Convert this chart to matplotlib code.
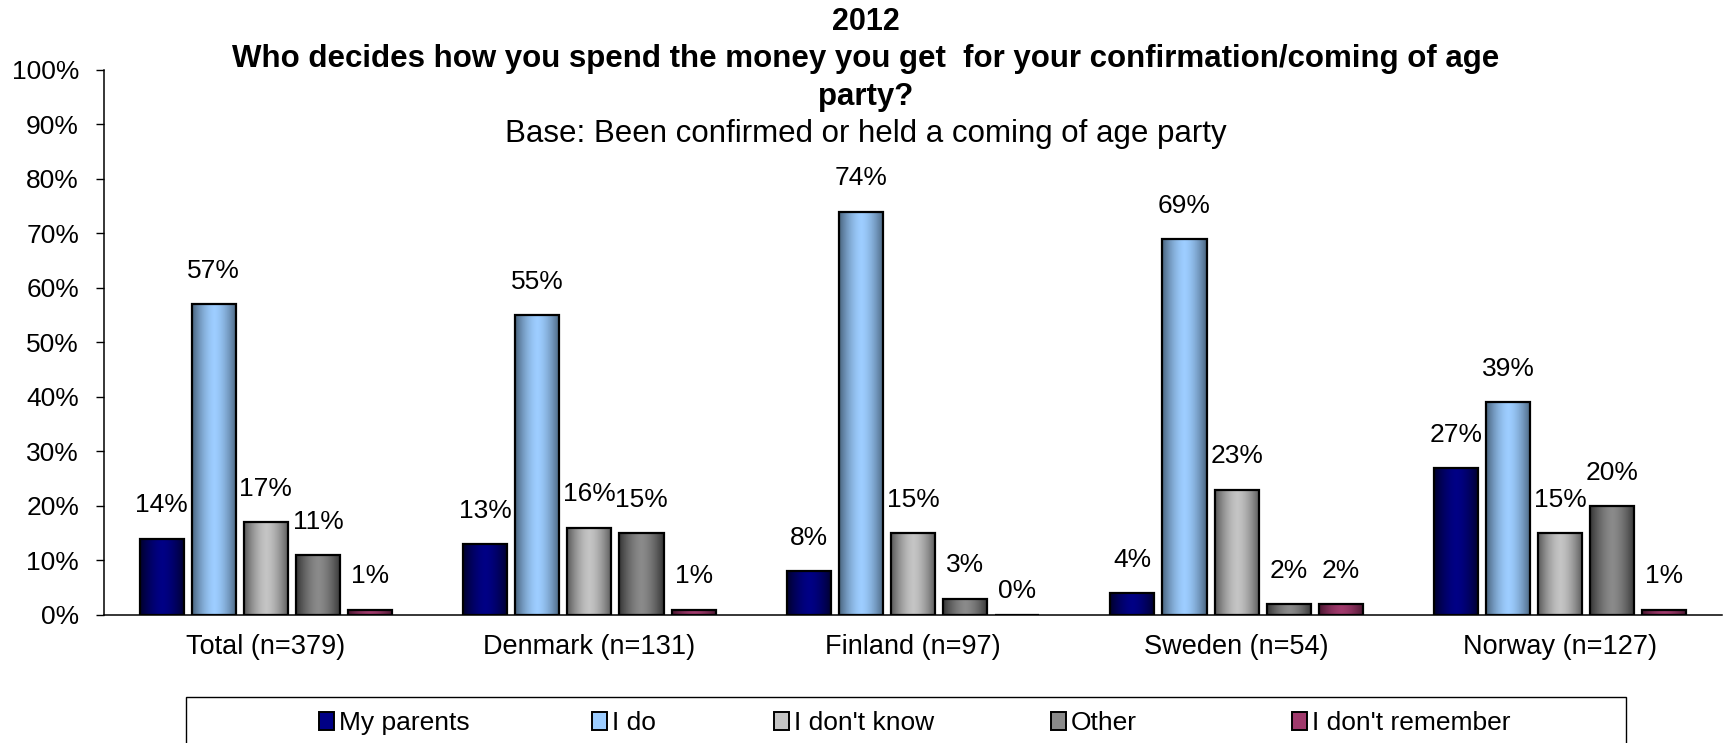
import matplotlib.pyplot as plt
import numpy as np
from matplotlib.colors import LinearSegmentedColormap
from matplotlib.patches import Patch, Rectangle

plt.rcParams['font.family'] = ['Liberation Sans', 'DejaVu Sans']

groups = ['Total (n=379)', 'Denmark (n=131)', 'Finland (n=97)', 'Sweden (n=54)', 'Norway (n=127)']
series = ['My parents', 'I do', "I don't know", 'Other', "I don't remember"]
my_parents = [14, 13, 8, 4, 27]
i_do = [57, 55, 74, 69, 39]
dont_know = [17, 16, 15, 23, 15]
other = [11, 15, 3, 2, 20]
dont_remember = [1, 1, 0, 2, 1]

# (edge shade, centre shade) for the cylinder-like gradient on each series
shades = [('#00002e', '#000085'),
          ('#4a6580', '#9dcdff'),
          ('#5a5a5a', '#c4c4c4'),
          ('#363636', '#8a8a8a'),
          ('#4a1630', '#a03a6c')]

values = [my_parents, i_do, dont_know, other, dont_remember]

fig = plt.figure(figsize=(17.25, 7.43), dpi=100)
ax = fig.add_axes([104 / 1725, 0.1723, (1722 - 104) / 1725, 0.7335])

x = np.arange(len(groups))
step = 0.161
width = 0.136
ramp = 1 - np.abs(np.linspace(-1, 1, 64)) ** 1.6

for i, (name, vals) in enumerate(zip(series, values)):
    pos = x + (i - 2) * step
    cmap = LinearSegmentedColormap.from_list(name, list(shades[i]))
    bars = ax.bar(pos, vals, width, color='none', edgecolor='black',
                  linewidth=1.6, zorder=3)
    for rect, v in zip(bars, vals):
        x0, w, h = rect.get_x(), rect.get_width(), rect.get_height()
        if v > 0:
            ax.imshow(ramp[np.newaxis, :], cmap=cmap, aspect='auto',
                      extent=[x0, x0 + w, 0, h], zorder=2, vmin=0, vmax=1)
        ax.annotate(f'{v}%', (x0 + w / 2, v), xytext=(0, 24 if v > 0 else 17),
                    textcoords='offset points', ha='center', va='center',
                    fontsize=19)

ax.set_xlim(-0.5, 4.5)
ax.set_ylim(0, 100)
ax.set_yticks(range(0, 101, 10))
ax.set_yticklabels([f'{t}%' for t in range(0, 101, 10)])
ax.set_xticks(x)
ax.set_xticklabels(groups)
ax.tick_params(axis='y', labelsize=19, length=6, width=1, pad=12)
ax.tick_params(axis='x', labelsize=19.5, length=0, pad=14)
for side in ('top', 'right'):
    ax.spines[side].set_visible(False)
for side in ('left', 'bottom'):
    ax.spines[side].set_linewidth(1.1)

# Titles
fig.text(0.502, 1 - 22 / 743, '2012', ha='center', va='center',
         fontsize=22, fontweight='bold')
fig.text(0.502, 1 - 59 / 743,
         'Who decides how you spend the money you get  for your confirmation/coming of age',
         ha='center', va='center', fontsize=22.5, fontweight='bold')
fig.text(0.502, 1 - 97 / 743, 'party?', ha='center', va='center',
         fontsize=22.5, fontweight='bold')
fig.text(0.502, 1 - 134 / 743, 'Base: Been confirmed or held a coming of age party',
         ha='center', va='center', fontsize=22.5)

# Legend box, with one entry placed at each marker position
fig.patches.append(Rectangle((186 / 1725, -0.01), (1626 - 186) / 1725,
                             0.01 + 1 - 697 / 743, transform=fig.transFigure,
                             facecolor='white', edgecolor='black', linewidth=1))
entry_x = [319, 592, 774, 1051, 1292]
for shade, name, ex in zip(shades, series, entry_x):
    fig.legend([Patch(facecolor=shade[1], edgecolor='black', linewidth=1.4)], [name],
               loc='center left', bbox_to_anchor=(ex / 1725, 1 - 723 / 743),
               frameon=False, fontsize=19, handlelength=0.55, handleheight=0.7,
               handletextpad=0.2, borderpad=0, borderaxespad=0)

fig.savefig('out.png', dpi=100)
